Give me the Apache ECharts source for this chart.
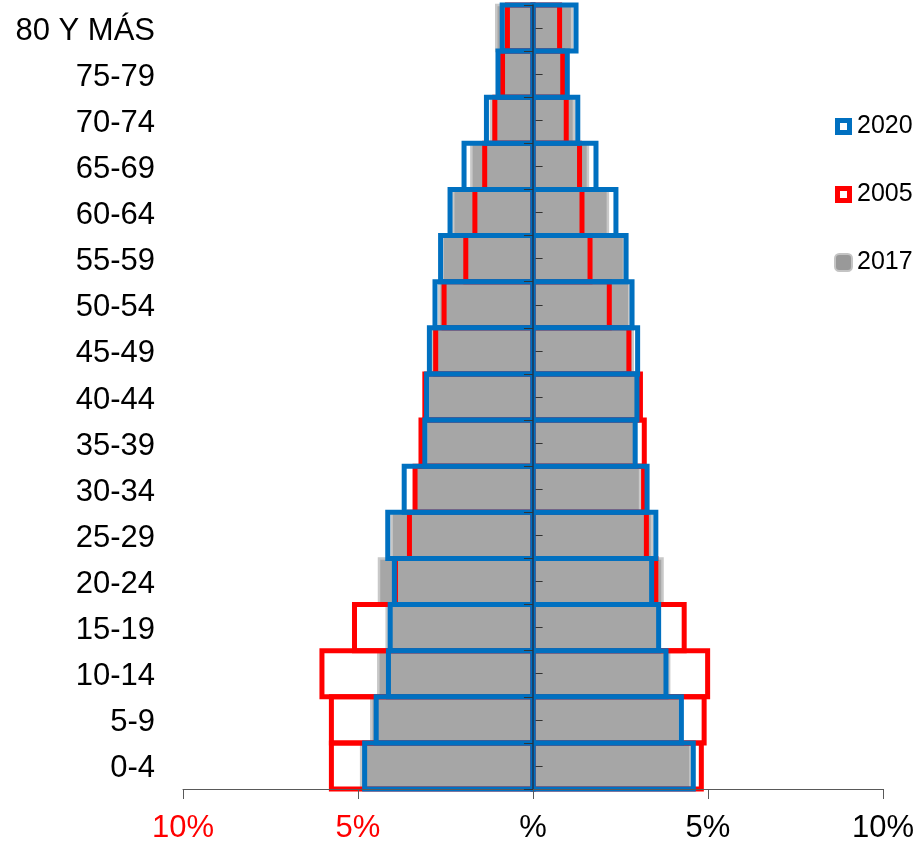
<!DOCTYPE html>
<html>
<head>
<meta charset="utf-8">
<script src="https://cdn.jsdelivr.net/npm/echarts@6/dist/echarts.min.js"></script>
<style>
html,body{margin:0;padding:0;background:#fff;}
#chart{width:917px;height:844px;}
</style>
</head>
<body>
<div id="chart"></div>
<script>
// Age groups, bottom to top
const categories = ['0-4','5-9','10-14','15-19','20-24','25-29','30-34','35-39','40-44','45-49','50-54','55-59','60-64','65-69','70-74','75-79','80 Y MÁS'];

// Percent of population (left side = first group, right side = second group)
const y2020Left  = [4.81, 4.48, 4.13, 4.08, 3.96, 4.15, 3.68, 3.09, 3.04, 2.96, 2.80, 2.64, 2.37, 1.97, 1.33, 1.00, 0.88];
const y2020Right = [4.58, 4.24, 3.80, 3.59, 3.39, 3.51, 3.26, 2.92, 2.97, 2.99, 2.83, 2.66, 2.37, 1.80, 1.28, 0.98, 1.23];

const y2005Left  = [5.76, 5.76, 6.03, 5.10, 3.93, 3.53, 3.37, 3.20, 3.09, 2.78, 2.54, 1.92, 1.66, 1.38, 1.09, 0.87, 0.73];
const y2005Right = [4.81, 4.89, 4.99, 4.32, 3.51, 3.24, 3.16, 3.18, 3.07, 2.74, 2.18, 1.63, 1.40, 1.33, 0.95, 0.85, 0.76];

const y2017Left  = [4.91, 4.62, 4.42, 4.18, 4.40, 4.04, 3.35, 3.05, 3.00, 2.90, 2.68, 2.58, 2.28, 1.76, 1.20, 0.95, 1.05];
const y2017Right = [4.50, 4.20, 3.89, 3.60, 3.70, 3.40, 3.06, 2.90, 3.00, 2.85, 2.75, 2.60, 2.14, 1.57, 1.17, 0.95, 1.12];

const xTicks = { min: -10, max: 10, interval: 5 };

const BLUE = '#0070C0', RED = '#FF0000', GRAY = '#A6A6A6';
const FONT = 'Liberation Sans, Arial, sans-serif';

const chart = echarts.init(document.getElementById('chart'), null, { renderer: 'canvas' });

// Build [x, categoryIndex] pairs from the arrays
function pairs(arr, sign) {
  return arr.map((v, i) => [sign * v, i]);
}

function rectSeries(name, data, style, z) {
  return {
    name: name,
    type: 'custom',
    coordinateSystem: 'cartesian2d',
    xAxisIndex: 0,
    yAxisIndex: 0,
    encode: { x: 0, y: 1 },
    data: data,
    z: z,
    silent: true,
    itemStyle: { color: style.legendColor },
    renderItem: function (params, api) {
      const cat = api.value(1);
      const p0 = api.coord([0, cat]);
      const p1 = api.coord([api.value(0), cat]);
      const h = api.size([0, 1])[1];
      return {
        type: 'rect',
        shape: {
          x: Math.min(p0[0], p1[0]),
          y: p0[1] - h / 2,
          width: Math.abs(p1[0] - p0[0]),
          height: h
        },
        style: { fill: style.fill, stroke: style.stroke, lineWidth: style.lineWidth }
      };
    }
  };
}

const grayStyle = { fill: GRAY, stroke: '#C8C8C8', lineWidth: 2.5, legendColor: GRAY };
const redStyle = { fill: 'rgba(0,0,0,0)', stroke: RED, lineWidth: 5, legendColor: RED };
const blueStyle = { fill: 'rgba(0,0,0,0)', stroke: BLUE, lineWidth: 5, legendColor: BLUE };

const hollowSquare = 'path://M0,0H17V17H0Z M5,5V12H12V5Z';

const option = {
  animation: false,
  backgroundColor: '#fff',
  textStyle: { fontFamily: FONT },
  grid: { left: 183, right: 29, top: 5, bottom: 54 },
  legend: {
    orient: 'vertical',
    left: 829,
    top: 109,
    itemWidth: 17,
    itemHeight: 17,
    itemGap: 43,
    selectedMode: false,
    textStyle: { fontSize: 25, color: '#000', fontFamily: FONT },
    data: [
      { name: '2020', icon: hollowSquare, itemStyle: { color: BLUE, borderWidth: 0 } },
      { name: '2005', icon: hollowSquare, itemStyle: { color: RED, borderWidth: 0 } },
      { name: '2017', icon: 'roundRect', itemStyle: { color: '#999999', borderColor: '#C4C4C4', borderWidth: 2 } }
    ]
  },
  xAxis: {
    type: 'value',
    min: xTicks.min,
    max: xTicks.max,
    interval: xTicks.interval,
    z: 5,
    splitLine: { show: false },
    axisLine: { show: true, onZero: false, lineStyle: { color: '#595959', width: 1 } },
    axisTick: { show: true, length: 10, lineStyle: { color: '#595959' } },
    axisLabel: {
      margin: 24,
      formatter: function (v) {
        if (v < 0) return '{n|' + (-v) + '%}';
        if (v === 0) return '{p|%}';
        return '{p|' + v + '%}';
      },
      rich: {
        n: { color: RED, fontSize: 31, fontFamily: FONT },
        p: { color: '#000', fontSize: 31, fontFamily: FONT }
      }
    }
  },
  yAxis: [
    {
      type: 'category',
      data: categories,
      position: 'left',
      axisLine: { show: false, onZero: false },
      axisTick: { show: false },
      axisLabel: {
        margin: 28,
        formatter: function (v) { return '{c|' + v + '}'; },
        rich: { c: { fontSize: 31, color: '#000', fontFamily: FONT, padding: [6, 0, 0, 0] } }
      },
      splitLine: { show: false }
    },
    {
      type: 'category',
      data: categories,
      position: 'left',
      z: 5,
      axisLine: { show: true, onZero: true, lineStyle: { color: '#1F3350', width: 1.5 } },
      axisTick: { show: true, length: 9, lineStyle: { color: '#333' } },
      axisLabel: { show: false },
      splitLine: { show: false }
    },
    {
      type: 'category',
      data: categories,
      position: 'left',
      offset: -352.6,
      z: 5,
      axisLine: { show: false, onZero: false },
      axisTick: { show: true, inside: true, alignWithLabel: true, length: 7, lineStyle: { color: '#333' } },
      axisLabel: { show: false },
      splitLine: { show: false }
    }
  ],
  series: [
    rectSeries('2017', pairs(y2017Left, -1), grayStyle, 2),
    rectSeries('2017', pairs(y2017Right, 1), grayStyle, 2),
    rectSeries('2005', pairs(y2005Left, -1), redStyle, 3),
    rectSeries('2005', pairs(y2005Right, 1), redStyle, 3),
    rectSeries('2020', pairs(y2020Left, -1), blueStyle, 4),
    rectSeries('2020', pairs(y2020Right, 1), blueStyle, 4)
  ]
};

chart.setOption(option);
</script>
</body>
</html>
